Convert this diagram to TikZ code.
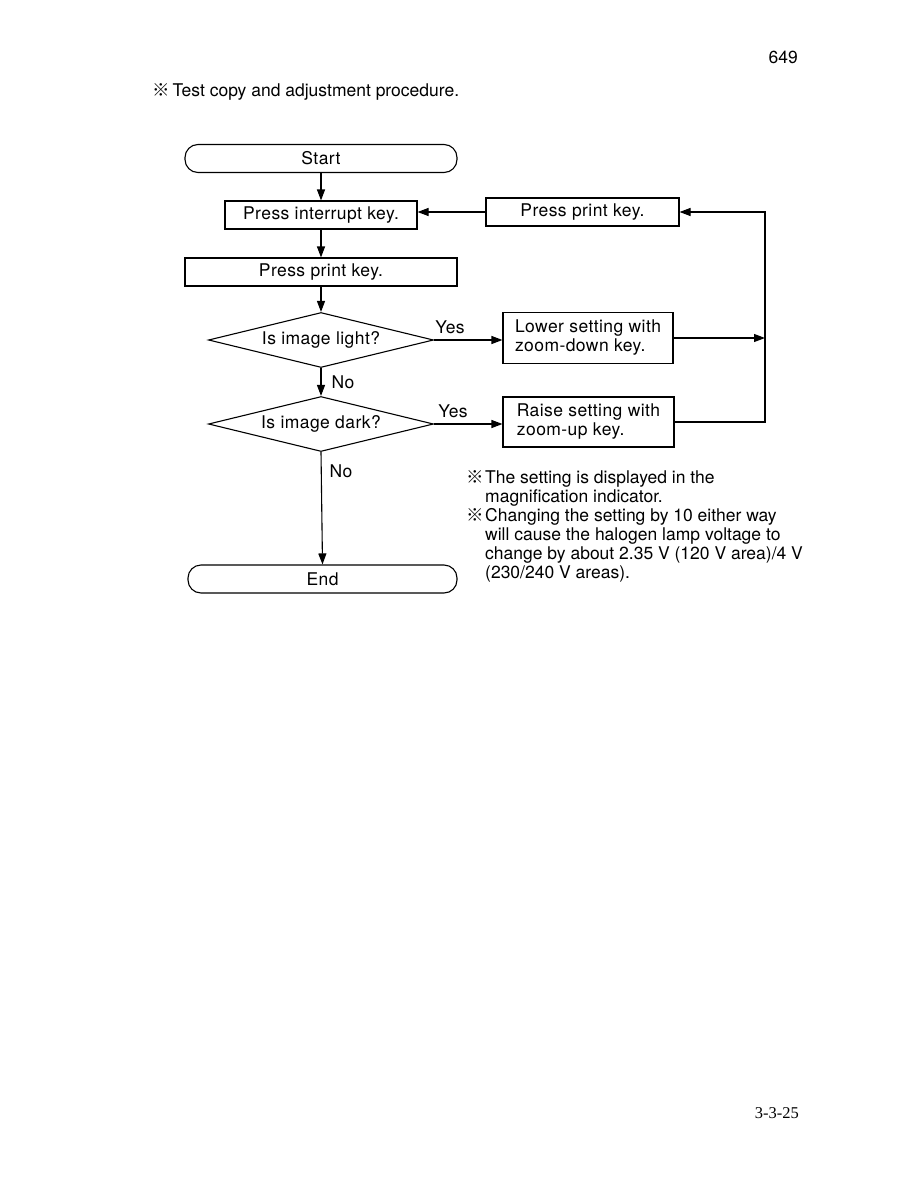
\documentclass[tikz,border=0pt]{standalone}
\usepackage{fontspec}
\setmainfont{TeX Gyre Heros}
\newfontfamily\refmark{Noto Sans CJK JP}
\newfontfamily\serifpg{Liberation Serif}
\newfontfamily\boxfont[LetterSpace=2.5]{TeX Gyre Heros}
\usetikzlibrary{arrows.meta,shapes.geometric}
\begin{document}
\begin{tikzpicture}[x=1pt,y=-1pt,
  font=\fontsize{17.5}{19}\selectfont,
  bf/.style={font=\boxfont\fontsize{17.5}{19}\selectfont},
  proc/.style={bf, draw, line width=1.1pt, inner sep=0pt, minimum height=28pt},
  term/.style={bf, draw, line width=1.1pt, rounded corners=13pt, inner sep=0pt, minimum height=28pt},
  dec/.style={bf, diamond, draw, line width=1.1pt, inner sep=0pt, shape aspect=4, minimum width=225pt, minimum height=55pt},
  twoline/.style={bf, draw, line width=1.1pt, inner sep=0pt, align=left},
  conn/.style={line width=1.1pt, -{Triangle[length=11pt,width=8pt]}},
  lbl/.style={inner sep=0pt}
]
\fill[white] (0,0) rectangle (918,1188);
\useasboundingbox (0,0) rectangle (918,1188);

% header
\node[lbl, anchor=base east] (pg) at (798,64) {649};
\node[lbl, anchor=base west] (title) at (152,97) {{\refmark ※}\,Test copy and adjustment procedure.};

% flow nodes
\node[term, minimum width=272pt] (start) at (321,158.5) {Start};
\node[proc, minimum width=192pt] (intr) at (321,215) {Press interrupt key.};
\node[proc, minimum width=193pt] (printR) at (582.5,212) {Press print key.};
\node[proc, minimum width=272pt] (print) at (321,272) {Press print key.};
\node[dec] (d1) at (321,340) {Is image light?};
\node[dec] (d2) at (321,424) {Is image dark?};
\node[twoline, minimum width=170pt, minimum height=51pt] (lower) at (588,338) {Lower setting with\\zoom-down key.};
\node[twoline, minimum width=171pt, minimum height=50pt] (raise) at (588.5,422) {Raise setting with\\zoom-up key.};
\node[term, minimum width=269pt] (end) at (322.5,579) {End};

\coordinate (rx) at (765,0);
\coordinate (jl) at (rx |- lower.east);

% connectors
\draw[conn] (start) -- (intr);
\draw[conn] (printR.west) -- (printR.west -| intr.east);
\draw[conn] (intr) -- (print);
\draw[conn] (print) -- (d1.north);
\draw[conn] (d1.east) -- (d1.east -| lower.west);
\draw[conn] (d1.south) -- (d2.north);
\draw[conn] (d2.east) -- (d2.east -| raise.west);
\draw[conn] (d2.south) -- (end.north);
\draw[conn] (lower.east) -- (jl);
\draw[conn] (raise.east) -- (raise.east -| rx) -- (rx |- printR.east) -- (printR.east);

% labels
\node[lbl, bf] (y1) at (450,327) {Yes};
\node[lbl, bf] (y2) at (453,411) {Yes};
\node[lbl, bf] (n1) at (343,382) {No};
\node[lbl, bf] (n2) at (341,471) {No};

% notes (base anchor = last line)
\node[lbl, anchor=base west, align=left] (note1) at (466,502)
  {\makebox[19pt][l]{\refmark ※}The setting is displayed in the\\\hspace*{19pt}magnification indicator.};
\node[lbl, anchor=base west, align=left] (note2) at (466,578)
  {\makebox[19pt][l]{\refmark ※}Changing the setting by 10 either way\\\hspace*{19pt}will cause the halogen lamp voltage to\\\hspace*{19pt}change by about 2.35 V (120 V area)/4 V\\\hspace*{19pt}(230/240 V areas).};

% footer
\node[lbl, anchor=base east, font=\serifpg\fontsize{16.5}{18}\selectfont] (foot) at (799,1118) {3-3-25};
\end{tikzpicture}
\end{document}
